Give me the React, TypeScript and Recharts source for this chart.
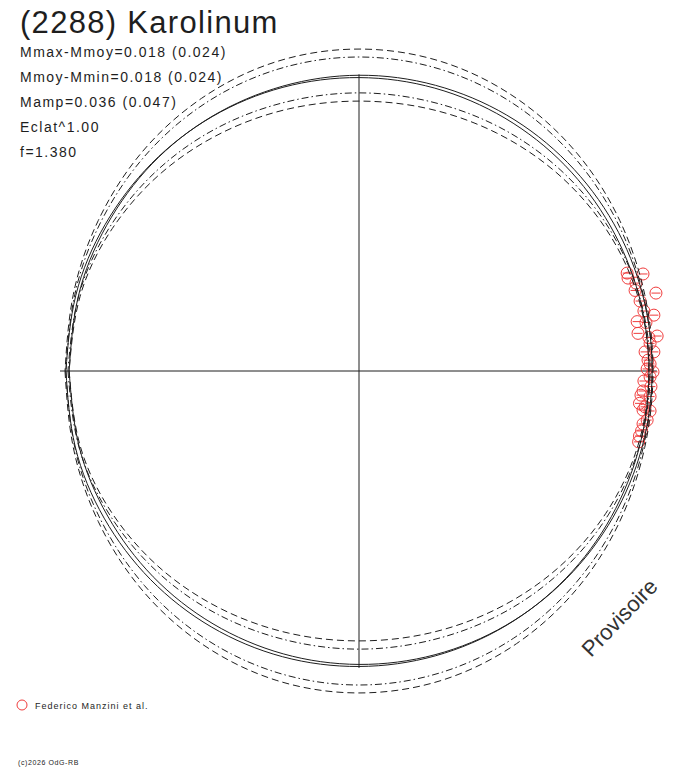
import { ScatterChart, Scatter, XAxis, YAxis, ReferenceLine } from "recharts"

// polar lightcurve: phase angle (deg) and relative radius
const PHASES = [0, 15, 30, 45, 60, 75, 90, 105, 120, 135, 150, 165, 180, 195, 210, 225, 240, 255, 270, 285, 300, 315, 330, 345]

const FIT_A = [0.997, 0.999, 1.001, 1.003, 1.005, 1.006, 1.006, 1.003, 1.0, 0.996, 0.991, 0.988, 0.986, 0.986, 0.987, 0.99, 0.993, 0.996, 0.998, 0.999, 0.999, 0.998, 0.997, 0.997]
const FIT_B = [0.986, 0.986, 0.987, 0.99, 0.993, 0.996, 0.998, 0.999, 0.999, 0.998, 0.997, 0.997, 0.997, 0.999, 1.001, 1.003, 1.005, 1.006, 1.005, 1.003, 1.0, 0.996, 0.991, 0.988]
const DASH_HI = [1.0, 1.006, 1.024, 1.048, 1.071, 1.089, 1.095, 1.089, 1.071, 1.048, 1.024, 1.006, 1.0, 1.006, 1.024, 1.048, 1.071, 1.089, 1.095, 1.089, 1.071, 1.048, 1.024, 1.006]
const DASH_LO = [0.986, 0.982, 0.969, 0.952, 0.935, 0.923, 0.918, 0.923, 0.935, 0.952, 0.969, 0.982, 0.986, 0.982, 0.969, 0.952, 0.935, 0.923, 0.918, 0.923, 0.935, 0.952, 0.969, 0.982]
const DOT_HI = [0.997, 1.001, 1.014, 1.032, 1.05, 1.063, 1.068, 1.063, 1.05, 1.032, 1.014, 1.001, 0.997, 1.001, 1.014, 1.032, 1.05, 1.063, 1.068, 1.063, 1.05, 1.032, 1.014, 1.001]
const DOT_LO = [0.99, 0.987, 0.979, 0.968, 0.957, 0.948, 0.946, 0.948, 0.957, 0.968, 0.979, 0.987, 0.99, 0.987, 0.979, 0.968, 0.957, 0.948, 0.946, 0.948, 0.957, 0.968, 0.979, 0.987]

// observations (Federico Manzini et al.)
const OBS_X = [0.912, 0.966, 0.915, 0.942, 0.939, 1.01, 0.956, 0.969, 1.003, 0.946, 0.976, 0.949, 1.014, 0.986, 0.99, 0.973, 1.003, 0.983, 0.99, 0.98, 1.0, 0.99, 0.969, 0.993, 0.966, 0.959, 0.99, 0.954, 0.973, 0.99, 0.966, 0.98, 0.966, 0.961, 0.954, 0.951]
const OBS_Y = [0.333, 0.33, 0.316, 0.299, 0.274, 0.265, 0.238, 0.204, 0.19, 0.168, 0.165, 0.128, 0.119, 0.114, 0.094, 0.065, 0.065, 0.037, 0.024, 0.007, -0.003, -0.02, -0.034, -0.053, -0.068, -0.082, -0.087, -0.11, -0.122, -0.136, -0.133, -0.167, -0.18, -0.204, -0.221, -0.241]

const TITLE = "(2288) Karolinum"
const INFO = ["Mmax-Mmoy=0.018 (0.024)", "Mmoy-Mmin=0.018 (0.024)", "Mamp=0.036 (0.047)", "Eclat^1.00", "f=1.380"]

const RED = "#f03c3c"
const INK = "#1e1e1e"
const FONT = "'Liberation Sans', Arial, sans-serif"

// start at the left side so the spline seam sits where all curves meet
function toCurve(radii: number[]) {
  const order = [...radii.keys()].map((i) => (i + 12) % radii.length)
  const pts = order.map((i) => {
    const a = (PHASES[i] * Math.PI) / 180
    return { x: radii[i] * Math.cos(a), y: radii[i] * Math.sin(a) }
  })
  return [...pts, pts[0]]
}

const obs = OBS_X.map((x, i) => ({ x, y: OBS_Y[i] }))

const curves = [
  { key: "dashHi", data: toCurve(DASH_HI), dash: "7 4" },
  { key: "dashLo", data: toCurve(DASH_LO), dash: "7 4" },
  { key: "dotHi", data: toCurve(DOT_HI), dash: "7 3 1.5 3" },
  { key: "dotLo", data: toCurve(DOT_LO), dash: "7 3 1.5 3" },
  { key: "fitA", data: toCurve(FIT_A), dash: undefined },
  { key: "fitB", data: toCurve(FIT_B), dash: undefined },
]

const Empty = () => <g />

const ObsMark = (p: any) => (
  <g>
    <circle cx={p.cx} cy={p.cy} r={6} fill="none" stroke={RED} strokeWidth={1} />
    <line x1={p.cx - 4.5} x2={p.cx + 4.5} y1={p.cy} y2={p.cy} stroke={RED} strokeWidth={1} />
  </g>
)

export default function App() {
  return (
    <div style={{ position: "absolute", left: 0, top: 0, width: 688, height: 768, background: "#fff" }}>
      <ScatterChart width={688} height={768} margin={{ top: 0, right: 0, bottom: 0, left: 0 }}>
        <XAxis type="number" dataKey="x" domain={[-1.2211, 1.119]} hide allowDataOverflow />
        <YAxis type="number" dataKey="y" domain={[-1.3503, 1.2619]} hide allowDataOverflow />
        <ReferenceLine segment={[{ x: -1.017, y: 0 }, { x: 1.013, y: 0 }]} stroke={INK} strokeWidth={1} />
        <ReferenceLine segment={[{ x: 0, y: -1.01 }, { x: 0, y: 1.009 }]} stroke={INK} strokeWidth={1} />
        <Scatter data={obs} shape={ObsMark} isAnimationActive={false} />
        {curves.map((c) => (
          <Scatter
            key={c.key}
            data={c.data}
            shape={Empty}
            line={{ stroke: INK, strokeWidth: 1, strokeDasharray: c.dash }}
            lineJointType="natural"
            isAnimationActive={false}
          />
        ))}
      </ScatterChart>
      <svg width={688} height={768} style={{ position: "absolute", left: 0, top: 0, pointerEvents: "none" }}>
        <text x={20} y={33} fontFamily={FONT} fontSize={31} letterSpacing={1.3} fill={INK}>
          {TITLE}
        </text>
        {INFO.map((t, i) => (
          <text key={t} x={20} y={57 + i * 25} fontFamily={FONT} fontSize={14} letterSpacing={1.5} fill={INK}>
            {t}
          </text>
        ))}
        <text x={591} y={658} transform="rotate(-46 591 658)" fontFamily={FONT} fontSize={22} fill="#333">
          Provisoire
        </text>
        <circle cx={22} cy={705} r={5} fill="none" stroke={RED} strokeWidth={1} />
        <text x={35} y={709} fontFamily={FONT} fontSize={9} letterSpacing={1} fill={INK}>
          Federico Manzini et al.
        </text>
        <text x={18} y={765} fontFamily={FONT} fontSize={7} letterSpacing={0.6} fill={INK}>
          (c)2026 OdG-RB
        </text>
      </svg>
    </div>
  )
}
